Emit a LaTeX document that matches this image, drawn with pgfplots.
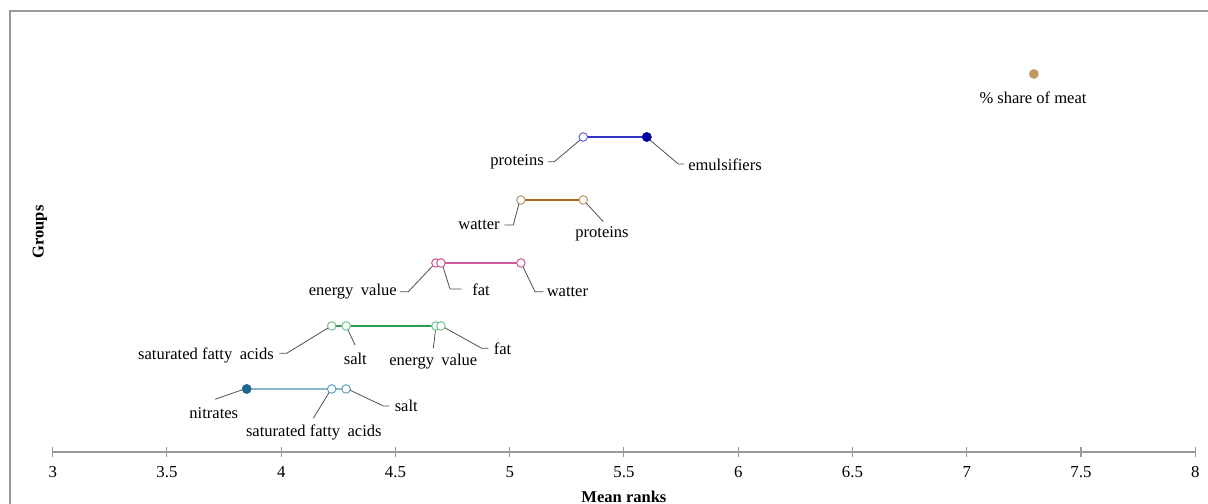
\documentclass[border=0pt]{standalone}
\usepackage{pgfplots}
\pgfplotsset{compat=1.18}
\usepackage{fontspec}
\setmainfont{Liberation Serif}
\definecolor{meat}{HTML}{BF9A60}
\definecolor{rfiveL}{HTML}{3434CC}
\definecolor{rfiveC}{HTML}{5A5AD6}
\definecolor{rfiveF}{HTML}{0000A0}
\definecolor{rfourL}{HTML}{A8661A}
\definecolor{rfourC}{HTML}{B89060}
\definecolor{rthreeL}{HTML}{CC5A9C}
\definecolor{rthreeC}{HTML}{D04A90}
\definecolor{rtwoL}{HTML}{2E9E55}
\definecolor{rtwoC}{HTML}{6CC08A}
\definecolor{roneL}{HTML}{8CB8CC}
\definecolor{roneC}{HTML}{5A9AB8}
\definecolor{roneF}{HTML}{1F6690}
\definecolor{lead}{HTML}{505050}
\definecolor{axgray}{HTML}{9A9A9A}
\def\px#1#2{({3+(#1-52.7)/228.5},{(452-#2)/63})}
\begin{document}
\begin{tikzpicture}
\begin{axis}[
  scale only axis, width=856.9pt, height=330.75pt,
  xmin=3, xmax=8, ymin=0, ymax=7,
  axis x line=bottom, axis y line=none,
  x axis line style={draw=axgray, line width=0.8pt, -},
  xtick={3,3.5,...,8},
  major tick style={draw=axgray, line width=0.8pt},
  tick align=center, major tick length=7pt,
  ytick=\empty,
  /pgf/number format/assume math mode=true,
  ticklabel style={font=\fontsize{12.6}{14}\selectfont, text=black},
  xticklabel style={yshift=-3.5pt},
  xlabel={\bfseries Mean ranks},
  xlabel style={font=\fontsize{12.4}{14}\selectfont, yshift=-3pt},
  clip=false,
]
% data
\addplot[color=roneL, line width=1pt, mark=*, mark size=3.2pt, mark options={draw=roneC, fill=white, line width=0.7pt}]
  coordinates {(3.849,1) (4.221,1) (4.284,1)};
\addplot[only marks, mark=*, mark size=3.4pt, color=roneF] coordinates {(3.849,1)};
\addplot[color=rtwoL, line width=0.8pt, mark=*, mark size=3.2pt, mark options={draw=rtwoC, fill=white, line width=0.7pt}]
  coordinates {(4.221,2) (4.284,2) (4.677,2) (4.699,2)};
\addplot[color=rthreeL, line width=0.8pt, mark=*, mark size=3.2pt, mark options={draw=rthreeC, fill=white, line width=0.7pt}]
  coordinates {(4.677,3) (4.699,3) (5.049,3)};
\addplot[color=rfourL, line width=0.8pt, mark=*, mark size=3.2pt, mark options={draw=rfourC, fill=white, line width=0.7pt}]
  coordinates {(5.049,4) (5.322,4)};
\addplot[color=rfiveL, line width=0.8pt, mark=*, mark size=3.2pt, mark options={draw=rfiveC, fill=white, line width=0.7pt}]
  coordinates {(5.322,5) (5.600,5)};
\addplot[only marks, mark=*, mark size=3.4pt, color=rfiveF] coordinates {(5.600,5)};
\addplot[only marks, mark=*, mark size=3.4pt, color=meat] coordinates {(7.294,6)};
% leader lines
\begin{scope}[lead, line width=0.6pt]
\draw \px{583.3}{137.3} -- \px{554.3}{161.7} -- \px{548}{161.7};
\draw \px{646.7}{137.3} -- \px{678.3}{164} -- \px{684}{164};
\draw \px{520}{200} -- \px{513.3}{225} -- \px{504.3}{225};
\draw \px{583.3}{200} -- \px{603.3}{221.7};
\draw \px{435.7}{262.7} -- \px{408.3}{291.7} -- \px{400}{291.7};
\draw \px{441.7}{262.7} -- \px{450}{289} -- \px{461.7}{289};
\draw \px{521}{262.7} -- \px{535}{291.7} -- \px{543.3}{291.7};
\draw \px{331.7}{325.7} -- \px{286.7}{353.3} -- \px{279.3}{353.3};
\draw \px{346}{325.7} -- \px{355}{345};
\draw \px{436}{325.7} -- \px{433.3}{348.3};
\draw \px{441}{325.7} -- \px{481.7}{348.3} -- \px{488.3}{348.3};
\draw \px{246.7}{388.3} -- \px{215}{399.3};
\draw \px{331.7}{388.3} -- \px{313.3}{418.3};
\draw \px{346}{388.3} -- \px{383.3}{406} -- \px{389.3}{406};
\end{scope}
% labels
\begin{scope}[every node/.style={font=\fontsize{12.4}{14}\selectfont, inner sep=0pt}]
\path \px{544}{161.5} node[anchor=east] {proteins};
\path \px{688}{165} node[anchor=west] {emulsifiers};
\path \px{500}{224.5} node[anchor=east] {watter};
\path \px{602}{233.5} node {proteins};
\path \px{397}{292} node[anchor=east] {energy\hspace{0.45em}value};
\path \px{472}{289.5} node[anchor=west] {fat};
\path \px{546.5}{292} node[anchor=west] {watter};
\path \px{274}{355} node[anchor=east] {saturated fatty\hspace{0.45em}acids};
\path \px{355.3}{358.5} node {salt};
\path \px{433.3}{362} node {energy\hspace{0.45em}value};
\path \px{493.5}{348.5} node[anchor=west] {fat};
\path \px{213.8}{413.5} node {nitrates};
\path \px{313.8}{432} node {saturated fatty\hspace{0.45em}acids};
\path \px{394.5}{406} node[anchor=west] {salt};
\path \px{1033}{97.5} node {\% share of meat};
\path \px{40}{232} node[rotate=90, font=\fontsize{12.4}{14}\selectfont\bfseries] {Groups};
\end{scope}
% frame
\draw[axgray, line width=1pt] \px{10}{504} -- \px{10}{11} -- \px{1208}{11};
\path \px{0}{504} coordinate (BL);
\path \px{1208}{0} coordinate (TR);
\end{axis}
\pgfresetboundingbox
\path[use as bounding box] (BL) rectangle (TR);
\end{tikzpicture}
\end{document}
